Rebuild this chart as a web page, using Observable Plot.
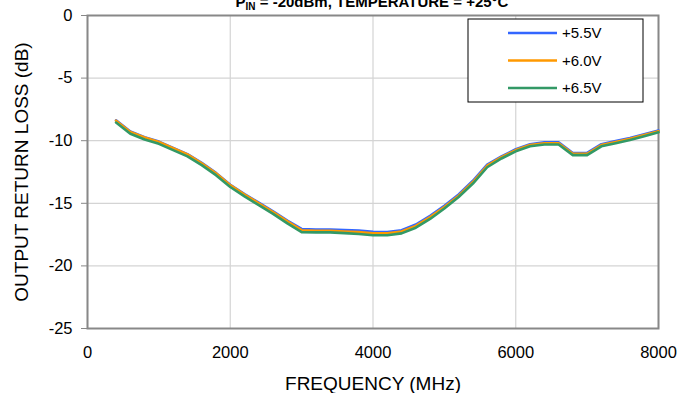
<!DOCTYPE html>
<html>
<head>
<meta charset="utf-8">
<script src="https://cdn.jsdelivr.net/npm/d3@7"></script>
<script src="https://cdn.jsdelivr.net/npm/@observablehq/plot@0.6"></script>
<style>
  html, body { margin: 0; padding: 0; background: #fff; }
  #chart { width: 691px; height: 393px; overflow: hidden; }
</style>
</head>
<body>
<div id="chart"></div>
<script>
const frequency = [400,600,800,1000,1200,1400,1600,1800,2000,2200,2400,2600,2800,3000,3200,3400,3600,3800,4000,4200,4400,4600,4800,5000,5200,5400,5600,5800,6000,6200,6400,6600,6800,7000,7200,7400,7600,7800,8000];
const v55 = [-8.37,-9.27,-9.72,-10.07,-10.57,-11.07,-11.77,-12.57,-13.52,-14.26,-14.95,-15.64,-16.38,-17.05,-17.1,-17.1,-17.13,-17.18,-17.28,-17.3,-17.15,-16.7,-16.0,-15.2,-14.3,-13.2,-11.92,-11.25,-10.68,-10.28,-10.13,-10.13,-10.98,-10.98,-10.28,-10.03,-9.78,-9.49,-9.19];
const v60 = [-8.4,-9.3,-9.75,-10.1,-10.6,-11.1,-11.8,-12.6,-13.55,-14.3,-15.0,-15.7,-16.45,-17.15,-17.2,-17.2,-17.25,-17.3,-17.4,-17.4,-17.25,-16.8,-16.1,-15.3,-14.4,-13.3,-12.0,-11.32,-10.75,-10.35,-10.2,-10.2,-11.05,-11.05,-10.35,-10.1,-9.85,-9.55,-9.25];
const v65 = [-8.55,-9.45,-9.9,-10.25,-10.75,-11.25,-11.95,-12.75,-13.7,-14.45,-15.15,-15.85,-16.6,-17.3,-17.32,-17.32,-17.38,-17.45,-17.55,-17.55,-17.4,-16.95,-16.25,-15.42,-14.5,-13.42,-12.12,-11.42,-10.85,-10.45,-10.3,-10.3,-11.15,-11.15,-10.45,-10.2,-9.95,-9.65,-9.33];
const seriesNames = ["+5.5V","+6.0V","+6.5V"];
const seriesColors = ["#3366ff","#ff9900","#339966"];
const xTicks = [0,2000,4000,6000,8000];
const yTicks = [0,-5,-10,-15,-20,-25];
const titleMain = "P";
const titleSub = "IN";
const titleRest = " = -20dBm, TEMPERATURE = +25°C";
const xLabel = "FREQUENCY (MHz)";
const yLabel = "OUTPUT RETURN LOSS (dB)";

const allSeries = [v55, v60, v65];
const rows = [];
allSeries.forEach((vals, s) => {
  vals.forEach((v, i) => rows.push({f: frequency[i], db: v, series: seriesNames[s]}));
});

const plot = Plot.plot({
  width: 691,
  height: 393,
  marginLeft: 87,
  marginRight: 33,
  marginTop: 15,
  marginBottom: 65,
  style: {fontFamily: "Liberation Sans, Arial, sans-serif", fontSize: "16px", color: "#000", background: "#fff"},
  x: {domain: [0, 8000], ticks: xTicks},
  y: {domain: [-25, 0], ticks: yTicks},
  color: {domain: seriesNames, range: seriesColors},
  marks: [
    Plot.gridX(xTicks, {stroke: "#d4d4d4", strokeOpacity: 1, strokeWidth: 1.2}),
    Plot.gridY(yTicks, {stroke: "#d4d4d4", strokeOpacity: 1, strokeWidth: 1.2}),
    Plot.frame({stroke: "#888", strokeWidth: 2}),
    Plot.axisX(xTicks, {tickSize: 0, tickPadding: 18, label: null, fontSize: 16.5, tickFormat: d => String(d)}),
    Plot.axisY(yTicks, {tickSize: 6, tickPadding: 9, stroke: "#888", label: null, fontSize: 16.5, tickFormat: d => String(d)}),
    Plot.line(rows, {x: "f", y: "db", z: "series", stroke: "series", strokeWidth: 2.6, curve: "linear"}),
    Plot.text([xLabel], {frameAnchor: "bottom", lineAnchor: "bottom", textAnchor: "middle", dy: 61, fontSize: 19, text: d => d}),
    Plot.text([yLabel], {frameAnchor: "left", lineAnchor: "middle", textAnchor: "middle", rotate: -90, dx: -66, fontSize: 19, text: d => d})
  ]
});
document.getElementById("chart").appendChild(plot);

// Title (partially clipped at top as in the reference)
const svg = d3.select(plot);
const t = svg.append("text")
  .attr("x", 372).attr("y", 7)
  .attr("text-anchor", "middle")
  .attr("font-weight", "bold")
  .attr("font-size", 15)
  .attr("fill", "#000");
t.append("tspan").text(titleMain);
t.append("tspan").attr("font-size", 10).attr("dy", 3).text(titleSub);
t.append("tspan").attr("dy", -3).text(titleRest);

// Legend box
const lg = svg.append("g").attr("transform", "translate(468,19)");
lg.append("rect").attr("width", 175).attr("height", 83).attr("fill", "#fff").attr("stroke", "#000").attr("stroke-width", 1);
seriesNames.forEach((name, i) => {
  const yy = 14 + i * 27.5;
  lg.append("line").attr("x1", 40).attr("x2", 89).attr("y1", yy).attr("y2", yy)
    .attr("stroke", seriesColors[i]).attr("stroke-width", 2.5);
  lg.append("text").attr("x", 94).attr("y", yy).attr("dy", "0.35em")
    .attr("text-anchor", "start")
    .attr("font-size", 15).attr("fill", "#000").text(name);
});
</script>
</body>
</html>
